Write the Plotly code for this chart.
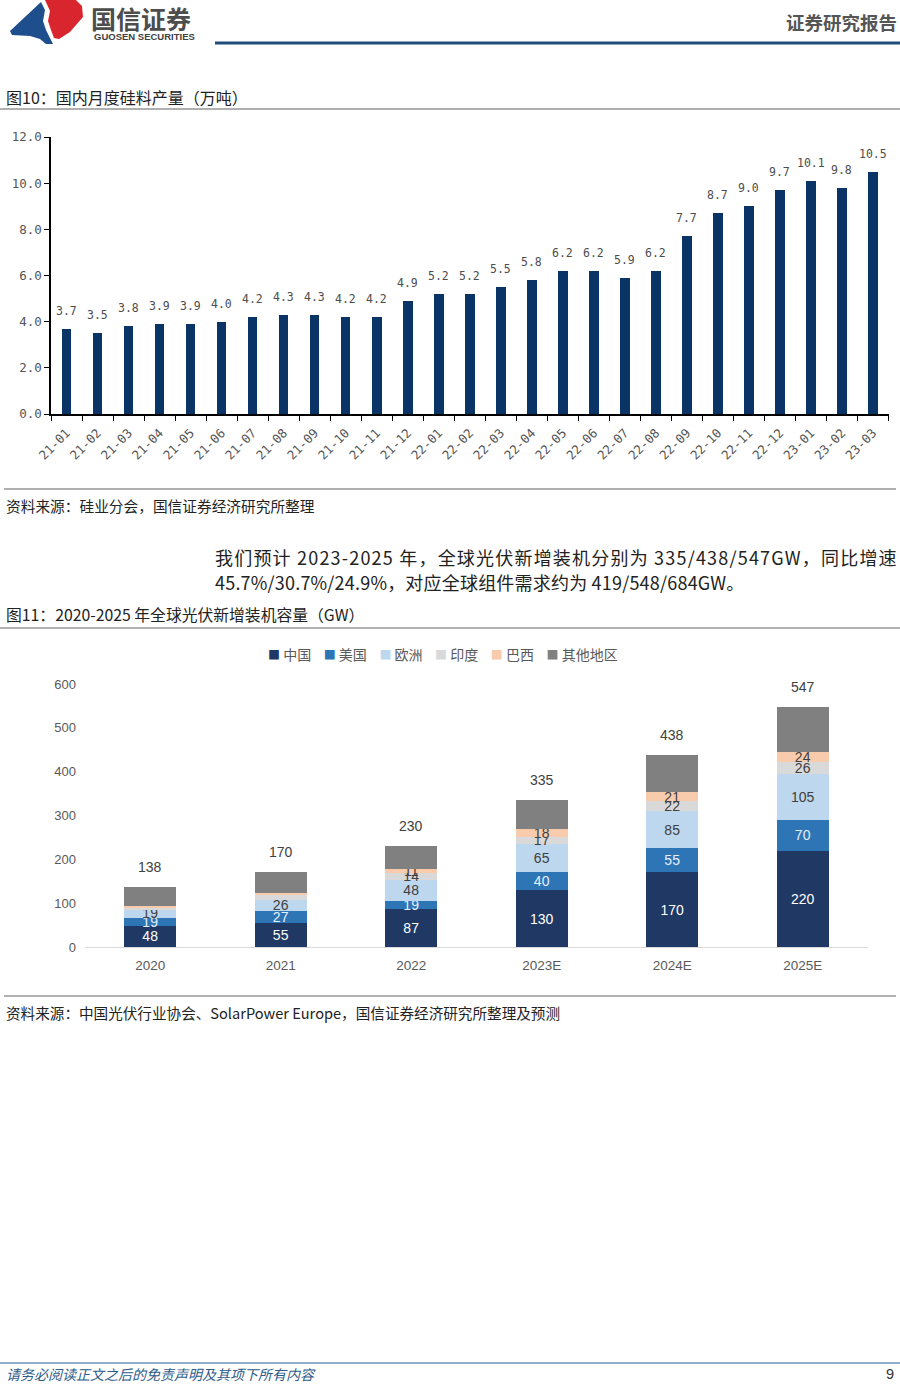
import plotly.graph_objects as go

W, H = 900, 1384

# ---------------- data: chart 1 ----------------
months = ["21-01", "21-02", "21-03", "21-04", "21-05", "21-06", "21-07", "21-08", "21-09",
          "21-10", "21-11", "21-12", "22-01", "22-02", "22-03", "22-04", "22-05", "22-06",
          "22-07", "22-08", "22-09", "22-10", "22-11", "22-12", "23-01", "23-02", "23-03"]
output_wt = [3.7, 3.5, 3.8, 3.9, 3.9, 4.0, 4.2, 4.3, 4.3, 4.2, 4.2, 4.9, 5.2, 5.2, 5.5, 5.8,
             6.2, 6.2, 5.9, 6.2, 7.7, 8.7, 9.0, 9.7, 10.1, 9.8, 10.5]

# ---------------- data: chart 2 ----------------
years = ["2020", "2021", "2022", "2023E", "2024E", "2025E"]
china = [48, 55, 87, 130, 170, 220]
usa = [19, 27, 19, 40, 55, 70]
europe = [19, 26, 48, 65, 85, 105]
india = [4, 10, 14, 17, 22, 26]
brazil = [3, 6, 11, 18, 21, 24]
others = [45, 46, 51, 65, 85, 102]
show_small_labels = [False, False, True, True, True, True]

def px(x):
    return x / W

def py(y):
    return 1 - y / H

fig = go.Figure()

# ---------- chart 1 ----------
fig.add_trace(go.Bar(
    x=months, y=output_wt, width=0.31, marker=dict(color="#0b3466", line=dict(width=0)),
    xaxis="x", yaxis="y", showlegend=False, hoverinfo="x+y"))

annotations = []
for i, v in enumerate(output_wt):
    annotations.append(dict(
        x=i, y=v, xref="x", yref="y", text=f"{v:.1f}", showarrow=False,
        yanchor="middle", yshift=18,
        font=dict(family="DejaVu Sans Mono", size=11.5, color="#4d4d4d")))

# ---------- chart 2 ----------
series = [
    ("中国", china, "#1f3864", "#ffffff", [True] * 6),
    ("美国", usa, "#2e75b6", "#e3f0ff", [True] * 6),
    ("欧洲", europe, "#bdd7ee", "#404040", [True] * 6),
    ("印度", india, "#d9d9d9", "#404040", show_small_labels),
    ("巴西", brazil, "#f8cbad", "#404040", show_small_labels),
    ("其他地区", others, "#808080", "#404040", [False] * 6),
]
for name, vals, col, tcol, show in series:
    fig.add_trace(go.Bar(
        name=name, x=years, y=vals, width=0.4,
        marker=dict(color=col, line=dict(width=0)),
        text=[str(v) if s else "" for v, s in zip(vals, show)],
        textposition="inside", insidetextanchor="middle", textangle=0,
        constraintext="none",
        textfont=dict(family="Liberation Sans", size=14, color=tcol),
        xaxis="x2", yaxis="y2", showlegend=False))

totals = [a + b + c + d + e + f for a, b, c, d, e, f in zip(china, usa, europe, india, brazil, others)]
for i, t in enumerate(totals):
    annotations.append(dict(
        x=i, y=t, xref="x2", yref="y2", text=str(t), showarrow=False,
        yanchor="middle", yshift=20,
        font=dict(family="Liberation Sans", size=14, color="#404040")))

# legend line for chart 2 (built from the series names and colours)
legend_txt = "&nbsp;&nbsp;&nbsp;&nbsp;".join(
    f'<span style="color:{col};font-size:12px">■</span>&nbsp;{name}' for name, _, col, _, _ in series)

# ---------- page texts ----------
cjk = "Noto Sans CJK SC"
def ptext(x, y, s, size, color="#222222", anchor="left", bold=False, italic=False, fam=cjk):
    if bold:
        s = f"<b>{s}</b>"
    if italic:
        s = f"<i>{s}</i>"
    annotations.append(dict(x=px(x), y=py(y), xref="paper", yref="paper", text=s,
                            showarrow=False, xanchor=anchor, yanchor="middle",
                            font=dict(family=fam, size=size, color=color)))

ptext(443, 654, legend_txt, 14, "#595959", anchor="center")
ptext(89, 18, "国信证券", 25, "#4d4d4d", bold=True)
ptext(92, 37, "GUOSEN SECURITIES", 9.5, "#404040", bold=True, fam="Liberation Sans")
ptext(899, 22, "证券研究报告", 18.5, "#555555", anchor="right", bold=True)
ptext(4, 97, "图10：国内月度硅料产量（万吨）", 16, "#222222")
ptext(4, 505, "资料来源：硅业分会，国信证券经济研究所整理", 14.7, "#222222")
ptext(213, 557, '<span style="letter-spacing:1.2px">我们预计 2023-2025 年，全球光伏新增装机分别为 335/438/547GW，同比增速</span>',
      18, "#222222")
ptext(213, 582, '<span style="letter-spacing:0.2px">45.7%/30.7%/24.9%，对应全球组件需求约为 419/548/684GW。</span>',
      18, "#222222")
ptext(4, 614, "图11：2020-2025 年全球光伏新增装机容量（GW）", 15.8, "#222222")
ptext(4, 1012, "资料来源：中国光伏行业协会、SolarPower Europe，国信证券经济研究所整理及预测", 14.6, "#222222")
ptext(4, 1374, "请务必阅读正文之后的免责声明及其项下所有内容", 14, "#2d5b8a", italic=True)
ptext(896, 1374, "9", 14.5, "#333333", anchor="right", fam="Liberation Sans")

# ---------- decorative shapes ----------
def path(pts):
    return "M " + " L ".join(f"{px(a):.5f},{py(b):.5f}" for a, b in pts) + " Z"

shapes = []
blue_logo = [(10, 31), (41, 2), (45, 10), (43, 21), (46, 30), (50, 38), (53, 44), (46, 44),
             (40, 39), (30, 36), (12, 35)]
red_logo = [(45, 0), (76, 0), (82, 6), (83, 17), (70, 32), (59, 39), (54, 38), (51, 30),
            (48, 21), (50, 11)]
shapes.append(dict(type="path", xref="paper", yref="paper", path=path(blue_logo),
                   fillcolor="#1f4e8c", line=dict(width=0)))
shapes.append(dict(type="path", xref="paper", yref="paper", path=path(red_logo),
                   fillcolor="#d9262e", line=dict(width=0)))

def hline(x0, x1, y, color, w):
    shapes.append(dict(type="line", xref="paper", yref="paper", x0=px(x0), x1=px(x1),
                       y0=py(y), y1=py(y), line=dict(color=color, width=w)))

hline(215, 900, 43, "#1f4e79", 3)
hline(0, 900, 109, "#b0b0b0", 2)
hline(4, 896, 489, "#b0b0b0", 2)
hline(0, 900, 628, "#b0b0b0", 2)
hline(4, 896, 996, "#b0b0b0", 2)
hline(0, 900, 1363, "#6d93bb", 1.5)

mono = "DejaVu Sans Mono"
fig.update_layout(
    width=W, height=H, margin=dict(l=0, r=0, t=0, b=0, autoexpand=False),
    paper_bgcolor="white", plot_bgcolor="white",
    barmode="stack", bargap=0.6, showlegend=False,
    font=dict(family=cjk, color="#404040"),
    xaxis=dict(domain=[px(51), px(889)], anchor="y", type="category",
               showline=True, linecolor="#000000", linewidth=1.5,
               ticks="outside", tickson="boundaries", ticklen=5, tickcolor="#000000",
               tickangle=-45, showgrid=False, automargin=False, ticklabelstandoff=5,
               tickfont=dict(family=mono, size=12.5, color="#555555")),
    yaxis=dict(domain=[py(414), py(137)], anchor="x", range=[0, 12], dtick=2,
               tickformat=".1f", showline=True, linecolor="#000000", linewidth=1.5,
               ticks="outside", ticklen=5, tickcolor="#000000", showgrid=False,
               zeroline=False, automargin=False,
               tickfont=dict(family=mono, size=12.5, color="#555555")),
    xaxis2=dict(domain=[px(85), px(868)], anchor="y2", type="category",
                showline=True, linecolor="#d9d9d9", linewidth=1, ticks="",
                showgrid=False, automargin=False, ticklabelstandoff=6,
                tickfont=dict(family="Liberation Sans", size=13.5, color="#595959")),
    yaxis2=dict(domain=[py(947), py(684)], anchor="x2", range=[0, 600], dtick=100,
                showline=False, showgrid=False, zeroline=False, ticks="",
                ticklabelstandoff=8, automargin=False,
                tickfont=dict(family="Liberation Sans", size=13, color="#595959")),
    annotations=annotations,
    shapes=shapes,
)

fig.write_html("out.html", config={"displayModeBar": False},
               post_script="document.body.style.margin='0';document.body.style.overflow='hidden';")
